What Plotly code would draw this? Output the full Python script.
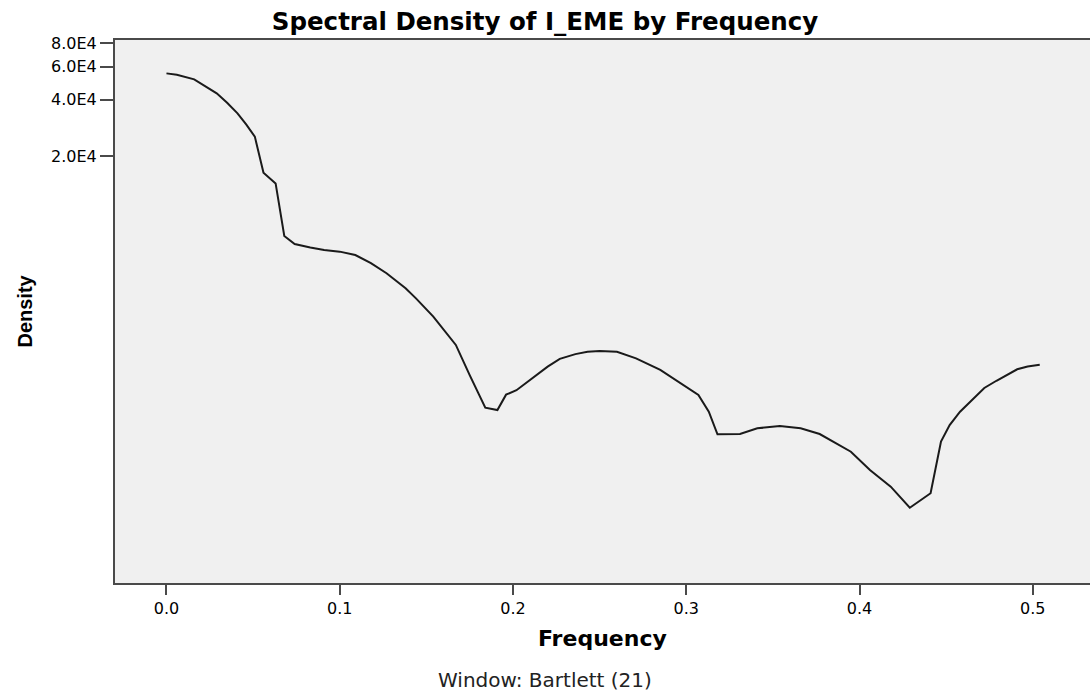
"""
Spectral density plot of I_EME (Bartlett window).
"""
import plotly.graph_objects as go

# Values
frequency = [0.000, 0.006, 0.016, 0.022, 0.029, 0.035, 0.041, 0.046, 0.051, 0.056,
             0.063, 0.068, 0.074, 0.083, 0.091, 0.100, 0.109, 0.118, 0.127, 0.138,
             0.144, 0.154, 0.167, 0.175, 0.184, 0.191, 0.196, 0.202, 0.210, 0.220,
             0.227, 0.236, 0.243, 0.250, 0.260, 0.271, 0.285, 0.296, 0.307, 0.313,
             0.318, 0.331, 0.341, 0.354, 0.366, 0.377, 0.386, 0.395, 0.406, 0.418,
             0.429, 0.441, 0.447, 0.452, 0.458, 0.466, 0.472, 0.479, 0.491, 0.497,
             0.504]
density = [55200, 54300, 51300, 47600, 43200, 38500, 33800, 29500, 25400, 16300,
           14300, 7500, 6800, 6510, 6320, 6190, 5940, 5380, 4750, 3950,
           3490, 2790, 1970, 1360, 912, 886, 1070, 1130, 1290, 1510,
           1660, 1760, 1810, 1830, 1810, 1670, 1450, 1240, 1065, 868,
           658, 660, 708, 728, 708, 660, 595, 531, 424, 346,
           267, 319, 602, 737, 868, 1023, 1161, 1269, 1461, 1511,
           1545]

x_ticks = [0.0, 0.1, 0.2, 0.3, 0.4, 0.5]
x_tick_labels = ['0.0', '0.1', '0.2', '0.3', '0.4', '0.5']
y_ticks = [20000, 40000, 60000, 80000]
y_tick_labels = ['2.0E4', '4.0E4', '6.0E4', '8.0E4']

axis_color = '#4a4a4a'

fig = go.Figure()

fig.add_trace(go.Scatter(
    x=frequency,
    y=density,
    mode='lines',
    line=dict(color='#1a1a1a', width=2),
    showlegend=False
))

fig.update_layout(
    width=1090,
    height=695,
    paper_bgcolor='white',
    plot_bgcolor='#f0f0f0',
    margin=dict(l=115, r=0, t=40, b=112),
    font=dict(family='DejaVu Sans', color='black'),
    title=dict(
        text='<b>Spectral Density of I_EME by Frequency</b>',
        x=0.5, xref='container', xanchor='center',
        y=1 - 21 / 695, yref='container', yanchor='middle',
        font=dict(size=24.5, family='DejaVu Sans', color='black')
    ),
    xaxis=dict(
        range=[-0.0297, 0.533],
        tickvals=x_ticks,
        ticktext=x_tick_labels,
        ticks='outside',
        ticklen=10,
        tickwidth=2,
        tickcolor=axis_color,
        tickfont=dict(size=16),
        showline=True,
        linecolor=axis_color,
        linewidth=2,
        mirror=True,
        showgrid=False,
        zeroline=False
    ),
    yaxis=dict(
        type='log',
        range=[2.0254, 4.9198],
        tickvals=y_ticks,
        ticktext=y_tick_labels,
        ticks='outside',
        ticklen=13,
        tickwidth=2,
        tickcolor=axis_color,
        tickfont=dict(size=16),
        showline=True,
        linecolor=axis_color,
        linewidth=2,
        showgrid=False,
        zeroline=False
    )
)

fig.add_annotation(
    text='<b>Frequency</b>',
    x=0.5, y=-0.1013, xref='paper', yref='paper',
    xanchor='center', yanchor='middle',
    showarrow=False,
    font=dict(size=22, family='DejaVu Sans', color='black')
)
fig.add_annotation(
    text='Window: Bartlett (21)',
    x=0.441, y=-0.1786, xref='paper', yref='paper',
    xanchor='center', yanchor='middle',
    showarrow=False,
    font=dict(size=20, family='DejaVu Sans', color='#222222')
)
fig.add_annotation(
    text='<b>Density</b>',
    x=-0.0933, y=0.5, xref='paper', yref='paper',
    xanchor='center', yanchor='middle',
    textangle=-90,
    showarrow=False,
    font=dict(size=20, family='Liberation Sans', color='black')
)

# drop the default page margin so the figure fills the window exactly
page_js = ("document.body.style.margin='0';"
           "document.body.style.overflow='hidden';"
           "document.documentElement.style.overflow='hidden';")

fig.write_html('out.html', post_script=page_js,
               config={'displayModeBar': False})
